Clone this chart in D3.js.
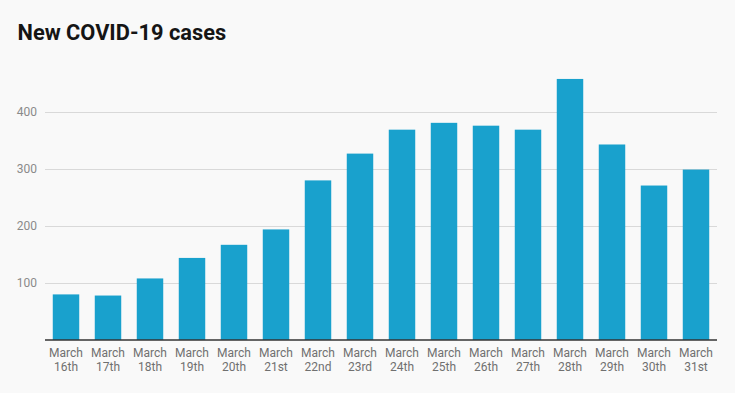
<!DOCTYPE html>
<html>
<head>
<meta charset="utf-8">
<script src="https://cdn.jsdelivr.net/npm/d3@7"></script>
<style>
  body { margin: 0; background: #f9f9f9; font-family: Roboto, sans-serif; }
</style>
</head>
<body>
<div id="chart"></div>
<script>
// data
const days = ['16th', '17th', '18th', '19th', '20th', '21st', '22nd', '23rd',
  '24th', '25th', '26th', '27th', '28th', '29th', '30th', '31st'];
const cases = [80, 78, 108, 144, 167, 194, 280, 327, 369, 381, 376, 369, 458, 343, 271, 299];
const yTicks = [100, 200, 300, 400];

const W = 735, H = 393;
const margin = { top: 55, right: 18, bottom: 53, left: 45 };

const svg = d3.select('#chart')
  .append('svg')
  .attr('width', W)
  .attr('height', H);

svg.append('rect').attr('width', W).attr('height', H).attr('fill', '#f9f9f9');

// title
svg.append('text')
  .attr('x', 17.5)
  .attr('y', 39.5)
  .text('New COVID-19 cases')
  .style('font-size', '21.8px')
  .style('font-weight', 'bold')
  .style('fill', '#151515');

const xScale = d3.scaleBand()
  .domain(days)
  .range([margin.left, W - margin.right])
  .paddingInner(0.37)
  .paddingOuter(0.185);

const yScale = d3.scaleLinear()
  .domain([0, 500])
  .range([H - margin.bottom, H - margin.bottom - 0.57 * 500]);

// gridlines + y labels
const yAxis = svg.append('g')
  .attr('transform', `translate(${margin.left}, 0)`)
  .call(d3.axisLeft(yScale)
    .tickValues(yTicks)
    .tickSize(-(W - margin.left - margin.right))
    .tickPadding(8));
yAxis.select('.domain').remove();
yAxis.selectAll('.tick line').attr('stroke', '#d9d9d9').attr('stroke-width', 1);
yAxis.selectAll('.tick text')
  .style('font-family', 'Roboto, sans-serif')
  .style('font-size', '12px')
  .attr('fill', '#8a8a8a');

// bars
svg.selectAll('.bar')
  .data(cases)
  .enter()
  .append('rect')
  .attr('class', 'bar')
  .attr('x', (d, i) => xScale(days[i]))
  .attr('y', d => yScale(d))
  .attr('width', xScale.bandwidth())
  .attr('height', d => yScale(0) - yScale(d))
  .attr('fill', '#19a1cd');

// baseline
svg.append('line')
  .attr('x1', margin.left)
  .attr('x2', W - margin.right)
  .attr('y1', yScale(0))
  .attr('y2', yScale(0))
  .attr('stroke', '#333')
  .attr('stroke-width', 1.5);

// x labels, two lines
const xl = svg.selectAll('.xlab')
  .data(days)
  .enter()
  .append('text')
  .attr('class', 'xlab')
  .attr('text-anchor', 'middle')
  .style('font-size', '12px')
  .style('fill', '#707070');
xl.append('tspan')
  .attr('x', d => xScale(d) + xScale.bandwidth() / 2)
  .attr('y', yScale(0) + 17)
  .text('March');
xl.append('tspan')
  .attr('x', d => xScale(d) + xScale.bandwidth() / 2)
  .attr('y', yScale(0) + 30.5)
  .text(d => d);
</script>
</body>
</html>
